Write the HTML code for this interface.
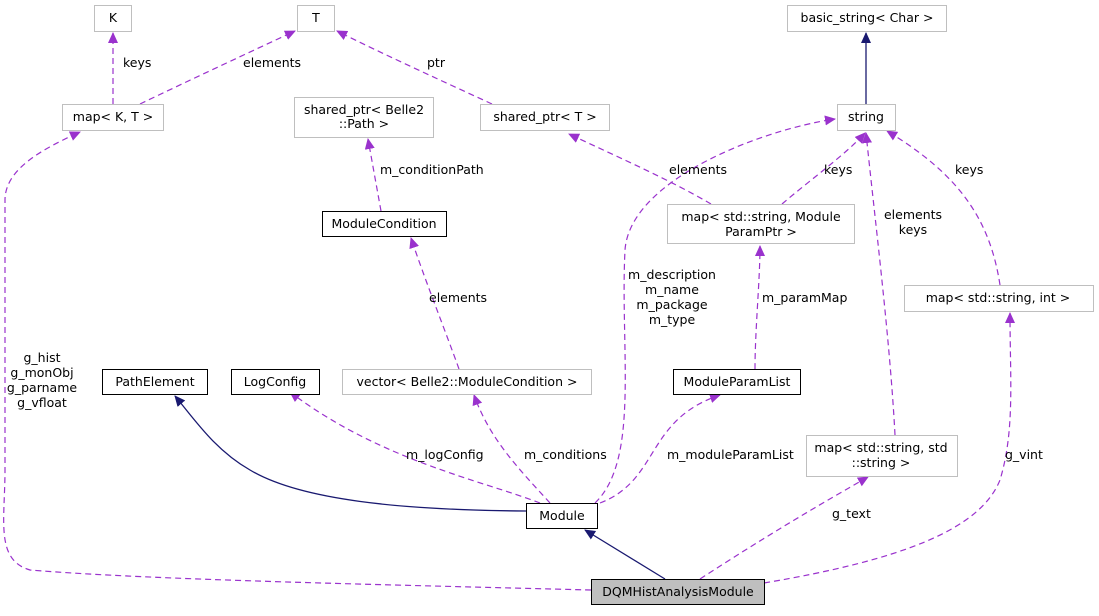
<!DOCTYPE html>
<html><head><meta charset="utf-8"><style>
body{margin:0;background:#fff;}
svg text{font-family:"DejaVu Sans","Liberation Sans",sans-serif;font-size:12.5px;fill:#000;}
</style></head><body>
<svg width="1099" height="611" viewBox="0 0 1099 611" xmlns="http://www.w3.org/2000/svg">
<defs>
<marker id="p" markerWidth="11" markerHeight="10" refX="10" refY="5" orient="auto" markerUnits="userSpaceOnUse"><path d="M0,0 L11,5 L0,10 z" fill="#9a32cd"/></marker>
<marker id="b" markerWidth="11" markerHeight="10" refX="10" refY="5" orient="auto" markerUnits="userSpaceOnUse"><path d="M0,0 L11,5 L0,10 z" fill="#191970"/></marker>
</defs>
<g fill="none" stroke="#9a32cd" stroke-dasharray="6,4" stroke-width="1.2" marker-end="url(#p)">
<path d="M113,104 L113,33"/>
<path d="M140,104 C190,80 250,52 295,31"/>
<path d="M492,104 C440,80 385,55 337,31"/>
<path d="M381,211 L368,139"/>
<path d="M459,369 C445,330 425,280 411,238"/>
<path d="M595,503 C640,460 620,350 625,250 C630,180 760,130 835,119"/>
<path d="M711,204 C670,180 620,158 569,134"/>
<path d="M782,204 C810,180 845,155 865,133"/>
<path d="M755,369 C755,330 760,280 760,246"/>
<path d="M895,435 C890,340 875,220 866,133"/>
<path d="M1000,285 C990,220 960,175 887,131"/>
<path d="M540,503 C480,480 380,460 290,392"/>
<path d="M550,503 C520,470 490,440 474,395"/>
<path d="M600,503 C660,480 645,420 720,395"/>
<path d="M700,579 C760,540 810,510 868,477"/>
<path d="M764,583 C900,560 980,530 1000,480 C1015,430 1010,380 1010,313"/>
<path d="M591,590 C400,585 150,580 30,570 C-5,560 5,520 5,470 L5,200 C5,170 40,150 80,132"/>
</g>
<g fill="none" stroke="#191970" stroke-width="1.3" marker-end="url(#b)">
<path d="M866,104 L866,33"/>
<path d="M665,579 L585,530"/>
<path d="M526,511 C400,510 300,500 250,470 C215,450 195,420 175,396"/>
</g>
<g stroke="#bfbfbf" fill="#fff">
<rect x="94.5" y="5.5" width="37" height="26"/>
<rect x="297.5" y="5.5" width="37" height="26"/>
<rect x="787.5" y="5.5" width="159" height="26"/>
<rect x="62.5" y="104.5" width="101" height="26"/>
<rect x="294.5" y="97.5" width="139" height="40"/>
<rect x="480.5" y="104.5" width="129" height="26"/>
<rect x="837.5" y="104.5" width="58" height="26"/>
<rect x="667.5" y="204.5" width="187" height="39"/>
<rect x="904.5" y="285.5" width="189" height="26"/>
<rect x="342.5" y="369.5" width="249" height="25"/>
<rect x="806.5" y="435.5" width="151" height="41"/>
</g>
<g stroke="#000" fill="#fff">
<rect x="322.5" y="211.5" width="124" height="25"/>
<rect x="102.5" y="369.5" width="105" height="25"/>
<rect x="231.5" y="369.5" width="88" height="25"/>
<rect x="673.5" y="369.5" width="127" height="25"/>
<rect x="526.5" y="503.5" width="71" height="25"/>
<rect x="591.5" y="579.5" width="173" height="25" fill="#bfbfbf"/>
</g>
<g text-anchor="middle">
<text x="113" y="22">K</text>
<text x="316" y="22">T</text>
<text x="867" y="22">basic_string&lt; Char &gt;</text>
<text x="113" y="121">map&lt; K, T &gt;</text>
<text x="364" y="114">shared_ptr&lt; Belle2</text>
<text x="364" y="128">::Path &gt;</text>
<text x="545" y="121">shared_ptr&lt; T &gt;</text>
<text x="866" y="121">string</text>
<text x="384" y="228">ModuleCondition</text>
<text x="761" y="221">map&lt; std::string, Module</text>
<text x="761" y="236">ParamPtr &gt;</text>
<text x="998" y="302">map&lt; std::string, int &gt;</text>
<text x="155" y="386">PathElement</text>
<text x="275" y="386">LogConfig</text>
<text x="467" y="386">vector&lt; Belle2::ModuleCondition &gt;</text>
<text x="737" y="386">ModuleParamList</text>
<text x="881" y="452">map&lt; std::string, std</text>
<text x="881" y="467">::string &gt;</text>
<text x="562" y="520">Module</text>
<text x="678" y="596">DQMHistAnalysisModule</text>
<text x="42" y="362">g_hist</text>
<text x="42" y="377">g_monObj</text>
<text x="42" y="392">g_parname</text>
<text x="42" y="407">g_vfloat</text>
<text x="672" y="279">m_description</text>
<text x="672" y="294">m_name</text>
<text x="672" y="309">m_package</text>
<text x="672" y="324">m_type</text>
<text x="913" y="219">elements</text>
<text x="913" y="234">keys</text>
</g>
<g>
<text x="123" y="67">keys</text>
<text x="243" y="67">elements</text>
<text x="427" y="67">ptr</text>
<text x="380" y="174">m_conditionPath</text>
<text x="669" y="174">elements</text>
<text x="824" y="174">keys</text>
<text x="955" y="174">keys</text>
<text x="429" y="302">elements</text>
<text x="762" y="302">m_paramMap</text>
<text x="406" y="459">m_logConfig</text>
<text x="524" y="459">m_conditions</text>
<text x="667" y="459">m_moduleParamList</text>
<text x="1005" y="459">g_vint</text>
<text x="832" y="518">g_text</text>
</g>
</svg>
</body></html>
